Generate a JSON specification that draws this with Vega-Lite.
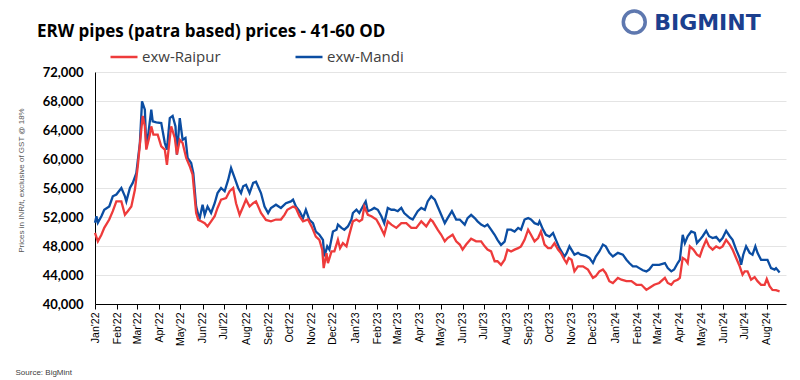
{
"$schema": "https://vega.github.io/schema/vega-lite/v6.json",
"width": 691, "height": 232,
"autosize": {"type": "none"},
"padding": {"left": 95, "top": 72, "right": 14, "bottom": 76},
"background": "white",
"title": {"text": "ERW pipes (patra based) prices - 41-60 OD", "anchor": "start", "frame": "group", "dx": -58, "dy": 41, "offset": 4, "font": "Open Sans", "fontSize": 17, "fontWeight": "bold", "color": "#000000"},
"config": {"view": {"stroke": null}},
"resolve": {"axis": {"x": "independent", "y": "independent"}},
"datasets": {
"logo": [{"t": "BIGMINT"}],
"prices": [
{"d":"2022-01-01","s":"exw-Mandi","v":51200},{"d":"2022-01-03","s":"exw-Mandi","v":52100},{"d":"2022-01-05","s":"exw-Mandi","v":51200},{"d":"2022-01-10","s":"exw-Mandi","v":52100},{"d":"2022-01-14","s":"exw-Mandi","v":53000},{"d":"2022-01-21","s":"exw-Mandi","v":53450},{"d":"2022-01-26","s":"exw-Mandi","v":54850},{"d":"2022-01-31","s":"exw-Mandi","v":55100},{"d":"2022-02-07","s":"exw-Mandi","v":56000},{"d":"2022-02-12","s":"exw-Mandi","v":54850},{"d":"2022-02-14","s":"exw-Mandi","v":54150},{"d":"2022-02-19","s":"exw-Mandi","v":56000},{"d":"2022-02-23","s":"exw-Mandi","v":56700},{"d":"2022-02-28","s":"exw-Mandi","v":58050},{"d":"2022-03-05","s":"exw-Mandi","v":62200},{"d":"2022-03-08","s":"exw-Mandi","v":67950},{"d":"2022-03-12","s":"exw-Mandi","v":66800},{"d":"2022-03-14","s":"exw-Mandi","v":61500},{"d":"2022-03-17","s":"exw-Mandi","v":63600},{"d":"2022-03-21","s":"exw-Mandi","v":66800},{"d":"2022-03-23","s":"exw-Mandi","v":65200},{"d":"2022-03-28","s":"exw-Mandi","v":65050},{"d":"2022-04-04","s":"exw-Mandi","v":64950},{"d":"2022-04-09","s":"exw-Mandi","v":62200},{"d":"2022-04-12","s":"exw-Mandi","v":61300},{"d":"2022-04-16","s":"exw-Mandi","v":65650},{"d":"2022-04-20","s":"exw-Mandi","v":65950},{"d":"2022-04-24","s":"exw-Mandi","v":64500},{"d":"2022-04-26","s":"exw-Mandi","v":60600},{"d":"2022-04-30","s":"exw-Mandi","v":65650},{"d":"2022-05-04","s":"exw-Mandi","v":62650},{"d":"2022-05-08","s":"exw-Mandi","v":62900},{"d":"2022-05-11","s":"exw-Mandi","v":60150},{"d":"2022-05-16","s":"exw-Mandi","v":59450},{"d":"2022-05-19","s":"exw-Mandi","v":58050},{"d":"2022-05-23","s":"exw-Mandi","v":53450},{"d":"2022-05-26","s":"exw-Mandi","v":52300},{"d":"2022-05-28","s":"exw-Mandi","v":51850},{"d":"2022-06-01","s":"exw-Mandi","v":53700},{"d":"2022-06-04","s":"exw-Mandi","v":52300},{"d":"2022-06-08","s":"exw-Mandi","v":53450},{"d":"2022-06-13","s":"exw-Mandi","v":52550},{"d":"2022-06-18","s":"exw-Mandi","v":53900},{"d":"2022-06-22","s":"exw-Mandi","v":55300},{"d":"2022-06-27","s":"exw-Mandi","v":56000},{"d":"2022-07-02","s":"exw-Mandi","v":55550},{"d":"2022-07-07","s":"exw-Mandi","v":57150},{"d":"2022-07-11","s":"exw-Mandi","v":58750},{"d":"2022-07-16","s":"exw-Mandi","v":57400},{"d":"2022-07-21","s":"exw-Mandi","v":56000},{"d":"2022-07-25","s":"exw-Mandi","v":55300},{"d":"2022-07-28","s":"exw-Mandi","v":56250},{"d":"2022-08-01","s":"exw-Mandi","v":56450},{"d":"2022-08-06","s":"exw-Mandi","v":55300},{"d":"2022-08-11","s":"exw-Mandi","v":56700},{"d":"2022-08-15","s":"exw-Mandi","v":56850},{"d":"2022-08-22","s":"exw-Mandi","v":55300},{"d":"2022-08-27","s":"exw-Mandi","v":53450},{"d":"2022-09-01","s":"exw-Mandi","v":52550},{"d":"2022-09-05","s":"exw-Mandi","v":53250},{"d":"2022-09-12","s":"exw-Mandi","v":53700},{"d":"2022-09-19","s":"exw-Mandi","v":53250},{"d":"2022-09-26","s":"exw-Mandi","v":53900},{"d":"2022-10-03","s":"exw-Mandi","v":54150},{"d":"2022-10-06","s":"exw-Mandi","v":54400},{"d":"2022-10-10","s":"exw-Mandi","v":53450},{"d":"2022-10-15","s":"exw-Mandi","v":52800},{"d":"2022-10-20","s":"exw-Mandi","v":51850},{"d":"2022-10-24","s":"exw-Mandi","v":53000},{"d":"2022-10-29","s":"exw-Mandi","v":51600},{"d":"2022-11-03","s":"exw-Mandi","v":51150},{"d":"2022-11-07","s":"exw-Mandi","v":50000},{"d":"2022-11-12","s":"exw-Mandi","v":49550},{"d":"2022-11-17","s":"exw-Mandi","v":48850},{"d":"2022-11-19","s":"exw-Mandi","v":46550},{"d":"2022-11-23","s":"exw-Mandi","v":47950},{"d":"2022-11-26","s":"exw-Mandi","v":47500},{"d":"2022-12-01","s":"exw-Mandi","v":50000},{"d":"2022-12-06","s":"exw-Mandi","v":50250},{"d":"2022-12-08","s":"exw-Mandi","v":50950},{"d":"2022-12-13","s":"exw-Mandi","v":50500},{"d":"2022-12-17","s":"exw-Mandi","v":50250},{"d":"2022-12-22","s":"exw-Mandi","v":50700},{"d":"2022-12-27","s":"exw-Mandi","v":51650},{"d":"2022-12-29","s":"exw-Mandi","v":52550},{"d":"2023-01-03","s":"exw-Mandi","v":53000},{"d":"2023-01-07","s":"exw-Mandi","v":52550},{"d":"2023-01-12","s":"exw-Mandi","v":53450},{"d":"2023-01-16","s":"exw-Mandi","v":54150},{"d":"2023-01-19","s":"exw-Mandi","v":52800},{"d":"2023-01-24","s":"exw-Mandi","v":53000},{"d":"2023-01-28","s":"exw-Mandi","v":53250},{"d":"2023-02-02","s":"exw-Mandi","v":53000},{"d":"2023-02-07","s":"exw-Mandi","v":52100},{"d":"2023-02-11","s":"exw-Mandi","v":51150},{"d":"2023-02-16","s":"exw-Mandi","v":53250},{"d":"2023-02-21","s":"exw-Mandi","v":53000},{"d":"2023-02-25","s":"exw-Mandi","v":53000},{"d":"2023-03-02","s":"exw-Mandi","v":52800},{"d":"2023-03-07","s":"exw-Mandi","v":53250},{"d":"2023-03-11","s":"exw-Mandi","v":52550},{"d":"2023-03-19","s":"exw-Mandi","v":51850},{"d":"2023-03-23","s":"exw-Mandi","v":51650},{"d":"2023-03-30","s":"exw-Mandi","v":52800},{"d":"2023-04-04","s":"exw-Mandi","v":53250},{"d":"2023-04-09","s":"exw-Mandi","v":53000},{"d":"2023-04-13","s":"exw-Mandi","v":54150},{"d":"2023-04-18","s":"exw-Mandi","v":54850},{"d":"2023-04-23","s":"exw-Mandi","v":54400},{"d":"2023-04-27","s":"exw-Mandi","v":53450},{"d":"2023-05-02","s":"exw-Mandi","v":52300},{"d":"2023-05-07","s":"exw-Mandi","v":51150},{"d":"2023-05-11","s":"exw-Mandi","v":51850},{"d":"2023-05-17","s":"exw-Mandi","v":52800},{"d":"2023-05-23","s":"exw-Mandi","v":51650},{"d":"2023-05-28","s":"exw-Mandi","v":51650},{"d":"2023-06-04","s":"exw-Mandi","v":50950},{"d":"2023-06-08","s":"exw-Mandi","v":51850},{"d":"2023-06-13","s":"exw-Mandi","v":52300},{"d":"2023-06-18","s":"exw-Mandi","v":51850},{"d":"2023-06-22","s":"exw-Mandi","v":51400},{"d":"2023-06-27","s":"exw-Mandi","v":50950},{"d":"2023-07-02","s":"exw-Mandi","v":50700},{"d":"2023-07-06","s":"exw-Mandi","v":50950},{"d":"2023-07-11","s":"exw-Mandi","v":50250},{"d":"2023-07-16","s":"exw-Mandi","v":49550},{"d":"2023-07-20","s":"exw-Mandi","v":48850},{"d":"2023-07-25","s":"exw-Mandi","v":48150},{"d":"2023-07-30","s":"exw-Mandi","v":48600},{"d":"2023-08-03","s":"exw-Mandi","v":50250},{"d":"2023-08-08","s":"exw-Mandi","v":50250},{"d":"2023-08-13","s":"exw-Mandi","v":50000},{"d":"2023-08-18","s":"exw-Mandi","v":50500},{"d":"2023-08-22","s":"exw-Mandi","v":50250},{"d":"2023-08-27","s":"exw-Mandi","v":51650},{"d":"2023-09-01","s":"exw-Mandi","v":51850},{"d":"2023-09-05","s":"exw-Mandi","v":51650},{"d":"2023-09-10","s":"exw-Mandi","v":51150},{"d":"2023-09-15","s":"exw-Mandi","v":50950},{"d":"2023-09-17","s":"exw-Mandi","v":51400},{"d":"2023-09-22","s":"exw-Mandi","v":50250},{"d":"2023-09-26","s":"exw-Mandi","v":49550},{"d":"2023-10-01","s":"exw-Mandi","v":49300},{"d":"2023-10-06","s":"exw-Mandi","v":49800},{"d":"2023-10-10","s":"exw-Mandi","v":48850},{"d":"2023-10-15","s":"exw-Mandi","v":47700},{"d":"2023-10-22","s":"exw-Mandi","v":46550},{"d":"2023-10-25","s":"exw-Mandi","v":47000},{"d":"2023-10-29","s":"exw-Mandi","v":47950},{"d":"2023-11-05","s":"exw-Mandi","v":46800},{"d":"2023-11-10","s":"exw-Mandi","v":47050},{"d":"2023-11-14","s":"exw-Mandi","v":46800},{"d":"2023-11-21","s":"exw-Mandi","v":46650},{"d":"2023-11-26","s":"exw-Mandi","v":46350},{"d":"2023-12-01","s":"exw-Mandi","v":45650},{"d":"2023-12-05","s":"exw-Mandi","v":46550},{"d":"2023-12-10","s":"exw-Mandi","v":47250},{"d":"2023-12-15","s":"exw-Mandi","v":48200},{"d":"2023-12-19","s":"exw-Mandi","v":47950},{"d":"2023-12-24","s":"exw-Mandi","v":47050},{"d":"2023-12-29","s":"exw-Mandi","v":46550},{"d":"2024-01-05","s":"exw-Mandi","v":47050},{"d":"2024-01-12","s":"exw-Mandi","v":46800},{"d":"2024-01-17","s":"exw-Mandi","v":46100},{"d":"2024-01-21","s":"exw-Mandi","v":45650},{"d":"2024-01-26","s":"exw-Mandi","v":45200},{"d":"2024-01-31","s":"exw-Mandi","v":45200},{"d":"2024-02-04","s":"exw-Mandi","v":44950},{"d":"2024-02-09","s":"exw-Mandi","v":44650},{"d":"2024-02-14","s":"exw-Mandi","v":44500},{"d":"2024-02-18","s":"exw-Mandi","v":44750},{"d":"2024-02-23","s":"exw-Mandi","v":45400},{"d":"2024-02-28","s":"exw-Mandi","v":45400},{"d":"2024-03-03","s":"exw-Mandi","v":45400},{"d":"2024-03-11","s":"exw-Mandi","v":45650},{"d":"2024-03-15","s":"exw-Mandi","v":44950},{"d":"2024-03-20","s":"exw-Mandi","v":44500},{"d":"2024-03-24","s":"exw-Mandi","v":44750},{"d":"2024-03-29","s":"exw-Mandi","v":45650},{"d":"2024-04-01","s":"exw-Mandi","v":46100},{"d":"2024-04-05","s":"exw-Mandi","v":49550},{"d":"2024-04-08","s":"exw-Mandi","v":48400},{"d":"2024-04-12","s":"exw-Mandi","v":49350},{"d":"2024-04-17","s":"exw-Mandi","v":50000},{"d":"2024-04-22","s":"exw-Mandi","v":49800},{"d":"2024-04-25","s":"exw-Mandi","v":48400},{"d":"2024-04-29","s":"exw-Mandi","v":48850},{"d":"2024-05-03","s":"exw-Mandi","v":49350},{"d":"2024-05-08","s":"exw-Mandi","v":50100},{"d":"2024-05-12","s":"exw-Mandi","v":49350},{"d":"2024-05-17","s":"exw-Mandi","v":49100},{"d":"2024-05-22","s":"exw-Mandi","v":49250},{"d":"2024-05-27","s":"exw-Mandi","v":48650},{"d":"2024-05-31","s":"exw-Mandi","v":49100},{"d":"2024-06-05","s":"exw-Mandi","v":50100},{"d":"2024-06-10","s":"exw-Mandi","v":49350},{"d":"2024-06-14","s":"exw-Mandi","v":48850},{"d":"2024-06-19","s":"exw-Mandi","v":47500},{"d":"2024-06-24","s":"exw-Mandi","v":46350},{"d":"2024-06-26","s":"exw-Mandi","v":45400},{"d":"2024-06-29","s":"exw-Mandi","v":46800},{"d":"2024-07-03","s":"exw-Mandi","v":47950},{"d":"2024-07-08","s":"exw-Mandi","v":47050},{"d":"2024-07-12","s":"exw-Mandi","v":46800},{"d":"2024-07-16","s":"exw-Mandi","v":47950},{"d":"2024-07-19","s":"exw-Mandi","v":47050},{"d":"2024-07-24","s":"exw-Mandi","v":46100},{"d":"2024-07-29","s":"exw-Mandi","v":46100},{"d":"2024-08-02","s":"exw-Mandi","v":46100},{"d":"2024-08-07","s":"exw-Mandi","v":44950},{"d":"2024-08-12","s":"exw-Mandi","v":44750},{"d":"2024-08-14","s":"exw-Mandi","v":44950},{"d":"2024-08-19","s":"exw-Mandi","v":44350},
{"d":"2022-01-01","s":"exw-Raipur","v":49800},{"d":"2022-01-05","s":"exw-Raipur","v":48650},{"d":"2022-01-10","s":"exw-Raipur","v":49550},{"d":"2022-01-14","s":"exw-Raipur","v":50500},{"d":"2022-01-21","s":"exw-Raipur","v":51650},{"d":"2022-01-26","s":"exw-Raipur","v":52800},{"d":"2022-01-31","s":"exw-Raipur","v":54150},{"d":"2022-02-07","s":"exw-Raipur","v":54150},{"d":"2022-02-12","s":"exw-Raipur","v":52300},{"d":"2022-02-16","s":"exw-Raipur","v":52800},{"d":"2022-02-21","s":"exw-Raipur","v":53450},{"d":"2022-02-26","s":"exw-Raipur","v":55750},{"d":"2022-03-02","s":"exw-Raipur","v":58950},{"d":"2022-03-07","s":"exw-Raipur","v":64050},{"d":"2022-03-09","s":"exw-Raipur","v":65950},{"d":"2022-03-12","s":"exw-Raipur","v":64500},{"d":"2022-03-14","s":"exw-Raipur","v":61300},{"d":"2022-03-19","s":"exw-Raipur","v":63350},{"d":"2022-03-21","s":"exw-Raipur","v":64500},{"d":"2022-03-24","s":"exw-Raipur","v":63350},{"d":"2022-03-30","s":"exw-Raipur","v":63350},{"d":"2022-04-04","s":"exw-Raipur","v":61750},{"d":"2022-04-09","s":"exw-Raipur","v":61300},{"d":"2022-04-12","s":"exw-Raipur","v":59200},{"d":"2022-04-16","s":"exw-Raipur","v":62900},{"d":"2022-04-18","s":"exw-Raipur","v":64500},{"d":"2022-04-23","s":"exw-Raipur","v":62900},{"d":"2022-04-26","s":"exw-Raipur","v":60600},{"d":"2022-04-30","s":"exw-Raipur","v":62650},{"d":"2022-05-04","s":"exw-Raipur","v":62200},{"d":"2022-05-09","s":"exw-Raipur","v":60150},{"d":"2022-05-14","s":"exw-Raipur","v":59000},{"d":"2022-05-18","s":"exw-Raipur","v":57850},{"d":"2022-05-23","s":"exw-Raipur","v":52550},{"d":"2022-05-26","s":"exw-Raipur","v":51600},{"d":"2022-05-30","s":"exw-Raipur","v":51400},{"d":"2022-06-04","s":"exw-Raipur","v":51150},{"d":"2022-06-08","s":"exw-Raipur","v":50700},{"d":"2022-06-13","s":"exw-Raipur","v":51400},{"d":"2022-06-18","s":"exw-Raipur","v":52100},{"d":"2022-06-22","s":"exw-Raipur","v":53250},{"d":"2022-06-27","s":"exw-Raipur","v":54400},{"d":"2022-07-04","s":"exw-Raipur","v":54600},{"d":"2022-07-09","s":"exw-Raipur","v":55550},{"d":"2022-07-14","s":"exw-Raipur","v":56000},{"d":"2022-07-18","s":"exw-Raipur","v":53900},{"d":"2022-07-23","s":"exw-Raipur","v":52300},{"d":"2022-07-28","s":"exw-Raipur","v":53450},{"d":"2022-08-01","s":"exw-Raipur","v":54400},{"d":"2022-08-06","s":"exw-Raipur","v":53450},{"d":"2022-08-11","s":"exw-Raipur","v":53900},{"d":"2022-08-15","s":"exw-Raipur","v":54150},{"d":"2022-08-22","s":"exw-Raipur","v":52550},{"d":"2022-08-29","s":"exw-Raipur","v":51600},{"d":"2022-09-05","s":"exw-Raipur","v":51400},{"d":"2022-09-12","s":"exw-Raipur","v":51650},{"d":"2022-09-19","s":"exw-Raipur","v":51650},{"d":"2022-09-24","s":"exw-Raipur","v":52300},{"d":"2022-09-28","s":"exw-Raipur","v":53000},{"d":"2022-10-06","s":"exw-Raipur","v":53450},{"d":"2022-10-10","s":"exw-Raipur","v":53250},{"d":"2022-10-15","s":"exw-Raipur","v":52100},{"d":"2022-10-20","s":"exw-Raipur","v":51400},{"d":"2022-10-27","s":"exw-Raipur","v":51650},{"d":"2022-11-01","s":"exw-Raipur","v":50700},{"d":"2022-11-07","s":"exw-Raipur","v":49300},{"d":"2022-11-12","s":"exw-Raipur","v":48850},{"d":"2022-11-16","s":"exw-Raipur","v":47500},{"d":"2022-11-18","s":"exw-Raipur","v":44950},{"d":"2022-11-22","s":"exw-Raipur","v":47000},{"d":"2022-11-24","s":"exw-Raipur","v":45650},{"d":"2022-11-29","s":"exw-Raipur","v":47250},{"d":"2022-12-03","s":"exw-Raipur","v":47250},{"d":"2022-12-08","s":"exw-Raipur","v":48850},{"d":"2022-12-11","s":"exw-Raipur","v":47700},{"d":"2022-12-15","s":"exw-Raipur","v":48400},{"d":"2022-12-20","s":"exw-Raipur","v":47950},{"d":"2022-12-24","s":"exw-Raipur","v":49550},{"d":"2022-12-29","s":"exw-Raipur","v":51400},{"d":"2023-01-03","s":"exw-Raipur","v":51650},{"d":"2023-01-07","s":"exw-Raipur","v":51400},{"d":"2023-01-11","s":"exw-Raipur","v":51650},{"d":"2023-01-14","s":"exw-Raipur","v":53450},{"d":"2023-01-19","s":"exw-Raipur","v":52300},{"d":"2023-01-24","s":"exw-Raipur","v":52100},{"d":"2023-01-31","s":"exw-Raipur","v":51650},{"d":"2023-02-04","s":"exw-Raipur","v":50950},{"d":"2023-02-11","s":"exw-Raipur","v":49550},{"d":"2023-02-16","s":"exw-Raipur","v":51400},{"d":"2023-02-21","s":"exw-Raipur","v":50950},{"d":"2023-02-28","s":"exw-Raipur","v":50500},{"d":"2023-03-07","s":"exw-Raipur","v":51150},{"d":"2023-03-14","s":"exw-Raipur","v":51150},{"d":"2023-03-21","s":"exw-Raipur","v":50500},{"d":"2023-03-28","s":"exw-Raipur","v":50500},{"d":"2023-04-04","s":"exw-Raipur","v":51400},{"d":"2023-04-11","s":"exw-Raipur","v":50700},{"d":"2023-04-17","s":"exw-Raipur","v":51650},{"d":"2023-04-20","s":"exw-Raipur","v":51400},{"d":"2023-04-27","s":"exw-Raipur","v":50250},{"d":"2023-05-02","s":"exw-Raipur","v":49550},{"d":"2023-05-07","s":"exw-Raipur","v":48650},{"d":"2023-05-11","s":"exw-Raipur","v":49100},{"d":"2023-05-18","s":"exw-Raipur","v":49550},{"d":"2023-05-23","s":"exw-Raipur","v":48650},{"d":"2023-05-28","s":"exw-Raipur","v":48200},{"d":"2023-06-01","s":"exw-Raipur","v":47500},{"d":"2023-06-06","s":"exw-Raipur","v":48200},{"d":"2023-06-13","s":"exw-Raipur","v":49000},{"d":"2023-06-20","s":"exw-Raipur","v":48650},{"d":"2023-06-27","s":"exw-Raipur","v":48650},{"d":"2023-07-02","s":"exw-Raipur","v":47950},{"d":"2023-07-06","s":"exw-Raipur","v":47500},{"d":"2023-07-11","s":"exw-Raipur","v":47250},{"d":"2023-07-16","s":"exw-Raipur","v":45900},{"d":"2023-07-20","s":"exw-Raipur","v":45900},{"d":"2023-07-25","s":"exw-Raipur","v":45400},{"d":"2023-07-30","s":"exw-Raipur","v":46100},{"d":"2023-08-03","s":"exw-Raipur","v":47500},{"d":"2023-08-08","s":"exw-Raipur","v":47250},{"d":"2023-08-13","s":"exw-Raipur","v":47500},{"d":"2023-08-18","s":"exw-Raipur","v":47700},{"d":"2023-08-22","s":"exw-Raipur","v":47950},{"d":"2023-08-27","s":"exw-Raipur","v":48850},{"d":"2023-09-01","s":"exw-Raipur","v":50250},{"d":"2023-09-05","s":"exw-Raipur","v":49550},{"d":"2023-09-10","s":"exw-Raipur","v":48650},{"d":"2023-09-15","s":"exw-Raipur","v":49100},{"d":"2023-09-19","s":"exw-Raipur","v":50000},{"d":"2023-09-24","s":"exw-Raipur","v":48200},{"d":"2023-09-29","s":"exw-Raipur","v":47700},{"d":"2023-10-03","s":"exw-Raipur","v":47700},{"d":"2023-10-08","s":"exw-Raipur","v":48400},{"d":"2023-10-13","s":"exw-Raipur","v":47500},{"d":"2023-10-17","s":"exw-Raipur","v":47050},{"d":"2023-10-22","s":"exw-Raipur","v":46100},{"d":"2023-10-25","s":"exw-Raipur","v":45650},{"d":"2023-10-28","s":"exw-Raipur","v":46350},{"d":"2023-11-01","s":"exw-Raipur","v":46100},{"d":"2023-11-05","s":"exw-Raipur","v":44500},{"d":"2023-11-10","s":"exw-Raipur","v":45200},{"d":"2023-11-17","s":"exw-Raipur","v":45200},{"d":"2023-11-24","s":"exw-Raipur","v":44750},{"d":"2023-12-01","s":"exw-Raipur","v":43600},{"d":"2023-12-05","s":"exw-Raipur","v":43850},{"d":"2023-12-10","s":"exw-Raipur","v":44500},{"d":"2023-12-15","s":"exw-Raipur","v":44750},{"d":"2023-12-19","s":"exw-Raipur","v":44250},{"d":"2023-12-24","s":"exw-Raipur","v":43150},{"d":"2023-12-29","s":"exw-Raipur","v":42900},{"d":"2024-01-05","s":"exw-Raipur","v":43600},{"d":"2024-01-10","s":"exw-Raipur","v":43350},{"d":"2024-01-17","s":"exw-Raipur","v":43150},{"d":"2024-01-24","s":"exw-Raipur","v":43150},{"d":"2024-01-31","s":"exw-Raipur","v":42650},{"d":"2024-02-07","s":"exw-Raipur","v":42650},{"d":"2024-02-14","s":"exw-Raipur","v":41950},{"d":"2024-02-18","s":"exw-Raipur","v":42200},{"d":"2024-02-25","s":"exw-Raipur","v":42650},{"d":"2024-03-03","s":"exw-Raipur","v":42900},{"d":"2024-03-11","s":"exw-Raipur","v":43600},{"d":"2024-03-15","s":"exw-Raipur","v":42900},{"d":"2024-03-20","s":"exw-Raipur","v":42650},{"d":"2024-03-24","s":"exw-Raipur","v":43150},{"d":"2024-03-29","s":"exw-Raipur","v":43350},{"d":"2024-04-01","s":"exw-Raipur","v":43600},{"d":"2024-04-05","s":"exw-Raipur","v":46350},{"d":"2024-04-09","s":"exw-Raipur","v":46100},{"d":"2024-04-12","s":"exw-Raipur","v":45650},{"d":"2024-04-15","s":"exw-Raipur","v":47950},{"d":"2024-04-20","s":"exw-Raipur","v":47500},{"d":"2024-04-25","s":"exw-Raipur","v":46800},{"d":"2024-04-29","s":"exw-Raipur","v":46550},{"d":"2024-05-03","s":"exw-Raipur","v":47700},{"d":"2024-05-08","s":"exw-Raipur","v":48850},{"d":"2024-05-12","s":"exw-Raipur","v":47950},{"d":"2024-05-17","s":"exw-Raipur","v":47500},{"d":"2024-05-22","s":"exw-Raipur","v":47950},{"d":"2024-05-27","s":"exw-Raipur","v":47700},{"d":"2024-05-31","s":"exw-Raipur","v":47950},{"d":"2024-06-05","s":"exw-Raipur","v":48850},{"d":"2024-06-10","s":"exw-Raipur","v":48200},{"d":"2024-06-14","s":"exw-Raipur","v":47500},{"d":"2024-06-19","s":"exw-Raipur","v":46350},{"d":"2024-06-24","s":"exw-Raipur","v":45200},{"d":"2024-06-28","s":"exw-Raipur","v":44050},{"d":"2024-07-01","s":"exw-Raipur","v":44500},{"d":"2024-07-05","s":"exw-Raipur","v":44500},{"d":"2024-07-10","s":"exw-Raipur","v":43350},{"d":"2024-07-15","s":"exw-Raipur","v":43700},{"d":"2024-07-19","s":"exw-Raipur","v":43150},{"d":"2024-07-24","s":"exw-Raipur","v":42650},{"d":"2024-07-29","s":"exw-Raipur","v":42650},{"d":"2024-08-01","s":"exw-Raipur","v":43450},{"d":"2024-08-05","s":"exw-Raipur","v":42450},{"d":"2024-08-09","s":"exw-Raipur","v":41950},{"d":"2024-08-14","s":"exw-Raipur","v":41900},{"d":"2024-08-19","s":"exw-Raipur","v":41750}
]
},
"layer": [
{
"data": {"name": "prices"},
"mark": {"type": "line", "strokeWidth": 2.3, "interpolate": "linear"},
"encoding": {
"x": {"field": "d", "type": "temporal",
"scale": {"type": "utc", "domain": [{"year": 2022, "month": 1, "date": 1, "utc": true}, {"year": 2024, "month": 8, "date": 28, "utc": true}], "nice": false},
"axis": {"title": "Source: BigMint", "titleX": -80, "titleY": 68, "titleAlign": "left", "titleBaseline": "middle", "titleFont": "Liberation Sans", "titleFontSize": 8, "titleFontWeight": "normal", "titleColor": "#404040",
"format": "%b'%y", "tickCount": {"interval": "month", "step": 1}, "labelAngle": 270, "labelFont": "Liberation Sans", "labelFontSize": 10.5, "labelColor": "#000000", "labelPadding": 3, "labelOverlap": false, "labelFlush": false, "labelBound": false, "tickSize": 5, "tickColor": "#000000", "domainColor": "#000000", "domainWidth": 1, "grid": false}},
"y": {"field": "v", "type": "quantitative",
"scale": {"domain": [40000, 72000], "nice": false, "zero": false},
"axis": {"title": "Prices in INR/t, exclusive of GST @ 18%", "titleX": -74, "titleY": 108, "titleAngle": 270, "titleAlign": "center", "titleBaseline": "middle", "titleFont": "Liberation Sans", "titleFontSize": 8, "titleFontWeight": "normal", "titleColor": "#595959",
"values": [40000, 44000, 48000, 52000, 56000, 60000, 64000, 68000, 72000], "format": ",.0f", "labelFont": "Lato", "labelFontSize": 13, "labelFontWeight": "bold", "labelColor": "#000000", "labelPadding": 12, "labelOverlap": false, "ticks": false, "domainColor": "#000000", "domainWidth": 1, "gridColor": "#e4e4e4", "gridWidth": 1}},
"color": {"field": "s", "type": "nominal",
"scale": {"domain": ["exw-Raipur", "exw-Mandi"], "range": ["#EE3B3B", "#0B4DA2"]},
"legend": {"title": null, "orient": "none", "legendX": 14, "legendY": -30, "direction": "horizontal", "symbolType": "stroke", "symbolSize": 729, "symbolStrokeWidth": 2.5, "labelFont": "Open Sans", "labelFontSize": 15, "labelColor": "#404040", "labelOffset": 3, "columnPadding": 69, "padding": 0}}
}
},
{
"data": {"name": "logo"},
"mark": {"type": "point", "shape": "circle", "filled": false, "strokeWidth": 3.5, "size": 480, "color": "#1B3F8E"},
"encoding": {
"x": {"datum": {"year": 2024, "month": 1, "date": 28, "utc": true}, "type": "temporal", "axis": null},
"y": {"datum": 78900, "type": "quantitative", "axis": null}
}
},
{
"data": {"name": "logo"},
"mark": {"type": "text", "align": "left", "baseline": "middle", "font": "DejaVu Sans", "fontSize": 22, "fontWeight": "bold", "color": "#1B3F8E"},
"encoding": {
"x": {"datum": {"year": 2024, "month": 2, "date": 25, "utc": true}, "type": "temporal", "axis": null},
"y": {"datum": 78800, "type": "quantitative", "axis": null},
"text": {"field": "t"}
}
}
]
}
